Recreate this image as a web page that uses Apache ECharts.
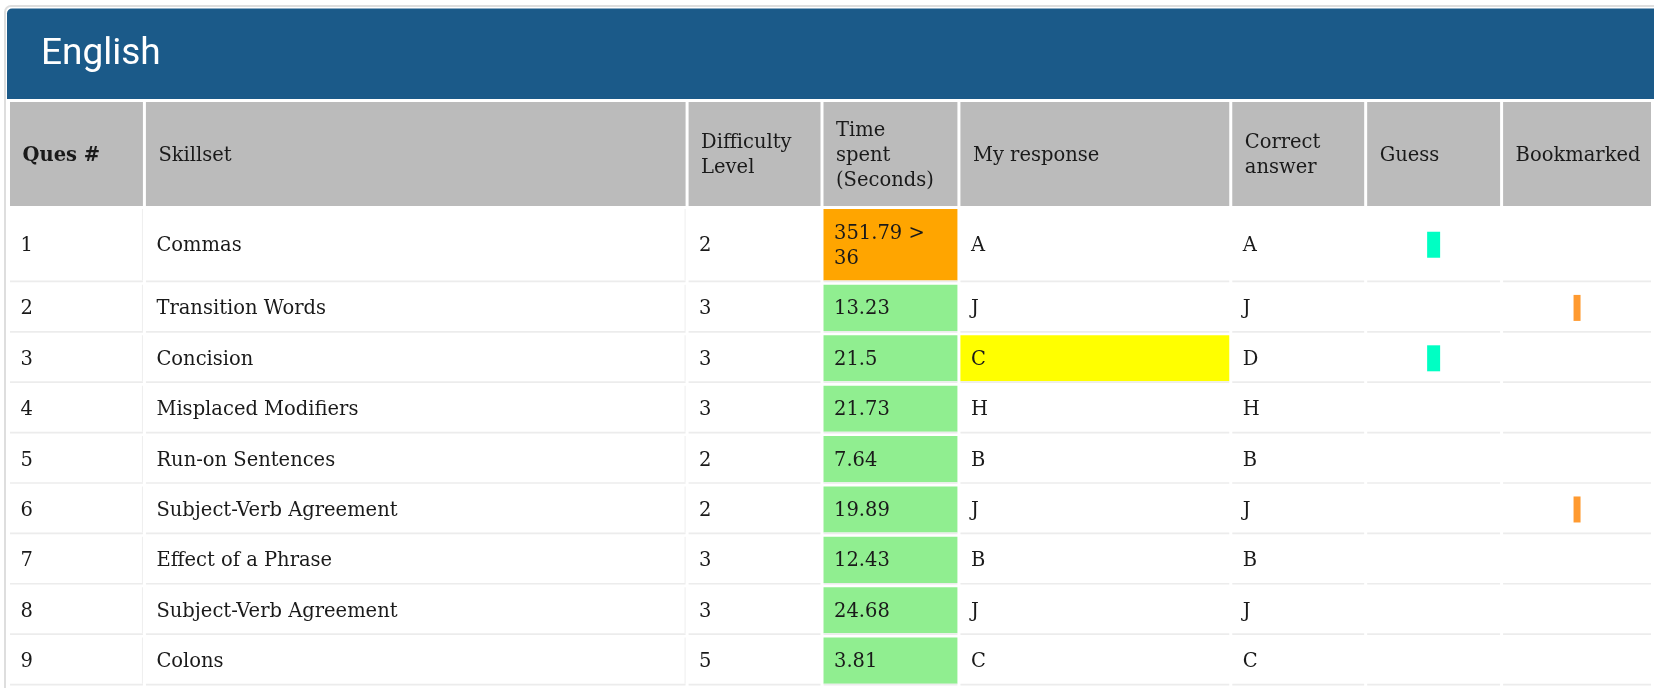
<!DOCTYPE html>
<html>
<head>
<meta charset="utf-8">
<script src="https://cdn.jsdelivr.net/npm/echarts@6/dist/echarts.min.js"></script>
<style>
  html, body { margin: 0; padding: 0; background: #ffffff; }
  #chart { width: 1654px; height: 688px; }
</style>
</head>
<body>
<div id="chart"></div>
<script>
// ---- data ----
const sectionTitle = 'English';
const headerLabels = ['Ques #', 'Skillset', 'Difficulty\nLevel', 'Time\nspent\n(Seconds)', 'My response', 'Correct\nanswer', 'Guess', 'Bookmarked'];
const questionNumbers = [1, 2, 3, 4, 5, 6, 7, 8, 9];
const skillsets = ['Commas', 'Transition Words', 'Concision', 'Misplaced Modifiers', 'Run-on Sentences', 'Subject-Verb Agreement', 'Effect of a Phrase', 'Subject-Verb Agreement', 'Colons'];
const difficultyLevels = [2, 3, 3, 3, 2, 2, 3, 3, 5];
const timeSpent = [351.79, 13.23, 21.5, 21.73, 7.64, 19.89, 12.43, 24.68, 3.81];
const timeLimit = 36;
const myResponses = ['A', 'J', 'C', 'H', 'B', 'J', 'B', 'J', 'C'];
const correctAnswers = ['A', 'J', 'D', 'H', 'B', 'J', 'B', 'J', 'C'];
const guessed = [true, false, true, false, false, false, false, false, false];
const bookmarked = [false, true, false, false, false, true, false, false, false];

// ---- layout (sizes in pixels) ----
const colWidths = [136, 543, 135, 137, 272, 135, 136, 151];
const rowHeights = [107, 76, 50.43, 50.43, 50.43, 50.43, 50.43, 50.43, 50.43, 50.43];
const colEdges = [0];
colWidths.forEach(w => colEdges.push(colEdges[colEdges.length - 1] + w));
const rowEdges = [0];
rowHeights.forEach(h => rowEdges.push(rowEdges[rowEdges.length - 1] + h));
const totalW = colEdges[colEdges.length - 1];
const totalH = rowEdges[rowEdges.length - 1];

// ---- styles ----
const C = {
  banner: '#1b5a89', header: '#bbbbbb', text: '#1a1a1a', rowLine: '#ececec', colLine: '#eeeeee',
  over: '#ffa500', under: '#90ee90', wrong: '#ffff00', guess: '#00ffc3', bookmark: '#ff9a30'
};
const FONT = '"DejaVu Serif", serif';
const FS = 19.5;
const LH = 25;

// ---- build cells ----
const cells = [];
headerLabels.forEach((h, c) => cells.push({ c, r: 0, kind: 'header', text: h, bold: c === 0 }));
questionNumbers.forEach((q, i) => {
  const r = i + 1;
  const t = timeSpent[i];
  const over = t > timeLimit;
  cells.push({ c: 0, r, kind: 'data', text: String(q), rightLine: true });
  cells.push({ c: 1, r, kind: 'data', text: skillsets[i], rightLine: true });
  cells.push({ c: 2, r, kind: 'data', text: String(difficultyLevels[i]) });
  cells.push({ c: 3, r, kind: 'data', text: over ? (t + ' > ' + timeLimit) : String(t), fill: over ? C.over : C.under, wrap: true });
  cells.push({ c: 4, r, kind: 'data', text: myResponses[i], fill: myResponses[i] !== correctAnswers[i] ? C.wrong : null });
  cells.push({ c: 5, r, kind: 'data', text: correctAnswers[i] });
  cells.push({ c: 6, r, kind: 'data', text: '', marker: guessed[i] ? { w: 13, color: C.guess } : null });
  cells.push({ c: 7, r, kind: 'data', text: '', marker: bookmarked[i] ? { w: 7, color: C.bookmark } : null });
});

const GAPX = 3;

function renderItem(params, api) {
  const cell = cells[params.dataIndex];
  const c = api.value(0), r = api.value(1);
  const x0 = api.coord([colEdges[c], 0])[0];
  const x1 = api.coord([colEdges[c + 1], 0])[0];
  const y0 = api.coord([0, rowEdges[r]])[1];
  const y1 = api.coord([0, rowEdges[r + 1]])[1];
  const w = x1 - x0 - GAPX;
  const children = [];
  if (cell.kind === 'header') {
    const h = y1 - y0 - 3;
    children.push({ type: 'rect', shape: { x: x0, y: y0, width: w, height: h }, style: { fill: C.header } });
    children.push({
      type: 'text',
      style: {
        text: cell.text, x: x0 + 12.5, y: y0 + h / 2 + 1.5, align: 'left', verticalAlign: 'middle',
        fontFamily: FONT, fontSize: FS, fontWeight: cell.bold ? 'bold' : 'normal', lineHeight: LH, fill: C.text
      }
    });
  } else {
    const h = y1 - y0 - 4.3;
    if (cell.fill) {
      children.push({ type: 'rect', shape: { x: x0, y: y0, width: w, height: h }, style: { fill: cell.fill } });
    }
    children.push({ type: 'rect', shape: { x: x0, y: y0 + h, width: w, height: 1.7 }, style: { fill: C.rowLine } });
    if (cell.rightLine) {
      children.push({ type: 'rect', shape: { x: x0 + w - 1, y: y0, width: 1, height: h }, style: { fill: C.colLine } });
    }
    if (cell.text) {
      const textStyle = {
        text: cell.text, x: x0 + 10.5, y: y0 + h / 2 + 1.5, align: 'left', verticalAlign: 'middle',
        fontFamily: FONT, fontSize: FS, lineHeight: LH, fill: C.text
      };
      if (cell.wrap) { textStyle.width = 105; textStyle.overflow = 'break'; }
      children.push({ type: 'text', style: textStyle });
    }
    if (cell.marker) {
      const mh = 26;
      children.push({
        type: 'rect',
        shape: { x: x0 + w / 2 - cell.marker.w / 2, y: y0 + h / 2 - mh / 2, width: cell.marker.w, height: mh },
        style: { fill: cell.marker.color }
      });
    }
  }
  return { type: 'group', children };
}

const chart = echarts.init(document.getElementById('chart'), null, { renderer: 'canvas' });
chart.setOption({
  animation: false,
  backgroundColor: '#ffffff',
  title: {
    text: sectionTitle, left: 36, top: 31,
    textStyle: { color: '#ffffff', fontFamily: 'Roboto', fontWeight: 'normal', fontSize: 37 }
  },
  graphic: [
    { type: 'rect', z: -10, shape: { x: 5, y: 6, width: 1700, height: 720, r: 6 }, style: { fill: '#ffffff', stroke: '#dedede', lineWidth: 2 } },
    { type: 'rect', z: -9, shape: { x: 7, y: 8.5, width: 1700, height: 90.5, r: [5, 0, 0, 0] }, style: { fill: C.banner } }
  ],
  grid: { left: 10, top: 102, width: totalW, height: totalH },
  xAxis: { type: 'value', min: 0, max: totalW, show: false },
  yAxis: { type: 'value', min: 0, max: totalH, inverse: true, show: false },
  series: [{
    type: 'custom',
    coordinateSystem: 'cartesian2d',
    clip: false,
    silent: true,
    renderItem,
    data: cells.map(cell => [cell.c, cell.r])
  }]
});
</script>
</body>
</html>
